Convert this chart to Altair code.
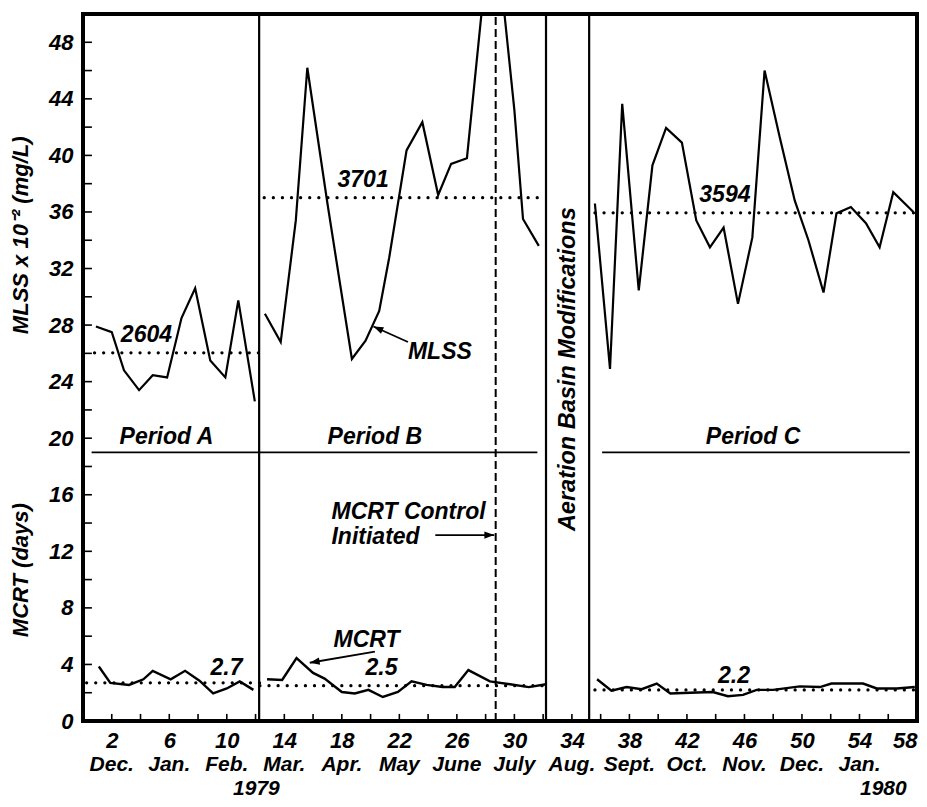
import math
import altair as alt
import pandas as pd

# ---------------- data ----------------
# MLSS x 10^-2 (mg/L), by week
mlss_a_x = [0.9, 2.0, 2.85, 3.9, 4.85, 5.85, 6.85, 7.8, 8.85, 9.9, 10.8, 11.95]
mlss_a_y = [27.9, 27.5, 24.8, 23.4, 24.45, 24.3, 28.5, 30.6, 25.5, 24.3, 29.75, 22.6]
mlss_b_x = [12.65, 13.75, 14.8, 15.6, 17.0, 17.8, 18.7, 19.65, 20.6, 21.3, 22.5,
            23.6, 24.7, 25.6, 26.7, 28.5, 30.0, 30.6, 31.7]
mlss_b_y = [28.8, 26.8, 35.4, 46.2, 36.6, 31.4, 25.6, 26.9, 29.0, 32.8, 40.35,
            42.35, 37.2, 39.4, 39.8, 58.0, 43.2, 35.5, 33.6]
mlss_c_x = [35.6, 36.65, 37.5, 38.65, 39.6, 40.55, 41.65, 42.65, 43.6, 44.55, 45.55,
            46.55, 47.4, 48.45, 49.5, 50.45, 51.5, 52.4, 53.4, 54.45, 55.4, 56.35, 57.75]
mlss_c_y = [36.6, 24.9, 43.65, 30.45, 39.3, 41.95, 40.9, 35.4, 33.5, 34.9, 29.5,
            34.2, 46.0, 41.3, 36.8, 34.0, 30.3, 35.9, 36.35, 35.2, 33.5, 37.4, 36.0]

# MCRT (days), by week
mcrt_a_x = [1.1, 1.9, 3.2, 4.2, 4.85, 6.1, 7.1, 8.1, 9.05, 10.0, 10.9, 11.85]
mcrt_a_y = [3.85, 2.7, 2.55, 2.95, 3.55, 2.95, 3.55, 2.85, 1.95, 2.3, 2.8, 2.2]
mcrt_b_x = [12.8, 13.85, 14.85, 16.0, 16.8, 18.0, 18.9, 19.85, 20.85, 21.9, 22.85,
            23.9, 25.0, 25.85, 26.8, 28.3, 29.7, 31.0, 32.2]
mcrt_b_y = [2.95, 2.9, 4.45, 3.4, 3.0, 2.05, 1.95, 2.2, 1.7, 2.05, 2.8,
            2.55, 2.4, 2.4, 3.6, 2.8, 2.6, 2.4, 2.6]
mcrt_c_x = [35.75, 36.75, 37.8, 38.85, 39.9, 40.85, 42.2, 43.8, 44.85, 45.9,
            46.85, 48.0, 49.85, 51.25, 52.05, 54.25, 55.2, 56.6, 57.85]
mcrt_c_y = [2.95, 2.15, 2.4, 2.25, 2.65, 1.95, 2.0, 2.05, 1.75, 1.85,
            2.2, 2.2, 2.45, 2.4, 2.65, 2.65, 2.3, 2.3, 2.4]

# period means
mean_labels = ["2604", "3701", "3594", "2.7", "2.5", "2.2"]
mean_values = [26.04, 37.01, 35.94, 2.7, 2.5, 2.2]
mean_x_start = [0.8, 12.6, 35.6, 0.25, 12.3, 35.6]
mean_x_end = [12.25, 32.0, 57.9, 12.9, 32.2, 57.9]

# structure
period_names = ["Period A", "Period B", "Period C"]
period_label_x = [5.8, 20.3, 46.6]
period_line_start = [0.6, 36.1]
period_line_end = [31.6, 57.5]
period_line_y = 19
boundary_x = [12.25, 32.2, 35.2]
control_x = 28.7

x_tick_labels = list(range(2, 59, 4))
months = ["Dec.", "Jan.", "Feb.", "Mar.", "Apr.", "May", "June", "July", "Aug.",
          "Sept.", "Oct.", "Nov.", "Dec.", "Jan."]
years = ["1979", "1980"]
years_x = [12.06, 55.66]

FONT = "Liberation Sans"
W, H = 834, 707
XMAX, YMAX = 58, 50
SX, SY = W / XMAX, H / YMAX

# ---------------- tables ----------------
def series(name, xs, ys):
    return pd.DataFrame({"x": xs, "y": ys, "s": name})

mlss_ac = pd.concat([series("A", mlss_a_x, mlss_a_y), series("C", mlss_c_x, mlss_c_y)])
mlss_b = series("B", mlss_b_x, mlss_b_y)
mcrt = pd.concat([series("A", mcrt_a_x, mcrt_a_y), series("B", mcrt_b_x, mcrt_b_y),
                  series("C", mcrt_c_x, mcrt_c_y)])
means = pd.DataFrame({"x": mean_x_start, "x2": mean_x_end, "y": mean_values})

x_scale = alt.Scale(domain=[0, XMAX], nice=False, zero=False)
y_scale = alt.Scale(domain=[0, YMAX], nice=False, zero=False)
x_axis = alt.Axis(values=x_tick_labels, title=None, grid=False, domain=False, ticks=False,
                  tickSize=0, labelFont=FONT, labelFontStyle="italic", labelFontWeight="bold",
                  labelFontSize=22, labelColor="black", labelPadding=19,
                  labelBaseline="middle", labelFlush=True, labelOverlap=False)
y_axis = alt.Axis(values=list(range(0, 49, 4)), title=None, grid=False, domain=False,
                  ticks=False, tickSize=0, labelFont=FONT, labelFontStyle="italic",
                  labelFontWeight="bold", labelFontSize=22, labelColor="black",
                  labelPadding=10, labelFlush=False, labelOverlap=False)


def X(field="x"):
    return alt.X(f"{field}:Q", scale=x_scale, axis=x_axis)


def Y(field="y"):
    return alt.Y(f"{field}:Q", scale=y_scale, axis=y_axis)


layers = []

# data lines
layers.append(alt.Chart(mlss_ac).mark_line(color="black", strokeWidth=2.2)
              .encode(x=X(), y=Y(), detail="s:N"))
layers.append(alt.Chart(mlss_b).mark_line(color="black", strokeWidth=2.2, clip=True)
              .encode(x=X(), y=Y()))
layers.append(alt.Chart(mcrt).mark_line(color="black", strokeWidth=2.4)
              .encode(x=X(), y=Y(), detail="s:N"))

# dotted mean lines
layers.append(alt.Chart(means).mark_rule(color="black", strokeWidth=3.2, strokeDash=[0.1, 9],
                                         strokeCap="round")
              .encode(x=X(), x2="x2:Q", y=Y()))

# boundaries
layers.append(alt.Chart(pd.DataFrame({"x": boundary_x, "y": 0, "y2": YMAX}))
              .mark_rule(color="black", strokeWidth=2.2)
              .encode(x=X(), y=Y(), y2="y2:Q"))
layers.append(alt.Chart(pd.DataFrame({"x": [control_x], "y": [0], "y2": [YMAX]}))
              .mark_rule(color="black", strokeWidth=2, strokeDash=[8, 4])
              .encode(x=X(), y=Y(), y2="y2:Q"))
layers.append(alt.Chart(pd.DataFrame({"x": period_line_start, "x2": period_line_end,
                                      "y": period_line_y}))
              .mark_rule(color="black", strokeWidth=1.6)
              .encode(x=X(), x2="x2:Q", y=Y()))

# inward ticks
layers.append(alt.Chart(pd.DataFrame({"x": list(range(2, 59, 2)), "y": 0, "y2": 0.5}))
              .mark_rule(color="black", strokeWidth=1.6)
              .encode(x=X(), y=Y(), y2="y2:Q"))
layers.append(alt.Chart(pd.DataFrame({"y": list(range(2, 49, 2)), "x": 0, "x2": 0.62}))
              .mark_rule(color="black", strokeWidth=1.6)
              .encode(x=X(), x2="x2:Q", y=Y()))

# heavy frame
frame = pd.DataFrame({"x": [0, XMAX, 0, 0], "x2": [0, XMAX, XMAX, XMAX],
                      "y": [0, 0, 0, YMAX], "y2": [YMAX, YMAX, 0, YMAX]})
layers.append(alt.Chart(frame).mark_rule(color="black", strokeWidth=4, strokeCap="square")
              .encode(x=X(), x2="x2:Q", y=Y(), y2="y2:Q"))

# arrows
arrows = pd.DataFrame({"x": [22.6, 20.3, 24.5], "y": [26.8, 4.9, 13.15],
                       "x2": [20.2, 15.77, 28.6], "y2": [27.9, 4.12, 13.15]})
arrows["ang"] = [math.degrees(math.atan2(-(r.y2 - r.y) * SY, (r.x2 - r.x) * SX)) % 360
                 for r in arrows.itertuples()]
layers.append(alt.Chart(arrows).mark_rule(color="black", strokeWidth=1.8)
              .encode(x=X(), x2="x2:Q", y=Y(), y2="y2:Q"))
heads = pd.DataFrame({"x": arrows["x2"], "y": arrows["y2"], "ang": arrows["ang"]})
layers.append(alt.Chart(heads).mark_point(shape="M0,0L-2.2,-0.8L-2.2,0.8Z", filled=True,
                                          color="black", size=81, opacity=1)
              .encode(x=X(), y=Y(), angle=alt.Angle("ang:Q", scale=None)))

# text annotations
txt = dict(font=FONT, fontStyle="italic", fontWeight="bold", color="black")
centered = pd.DataFrame({
    "x": period_label_x + [4.41, 19.48, 44.64, 9.98, 20.76, 45.27, 24.82, 19.72],
    "y": [20.1] * 3 + [27.3, 38.23, 37.17, 3.72, 3.72, 3.18, 26.1, 5.74],
    "t": period_names + mean_labels + ["MLSS", "MCRT"],
})
layers.append(alt.Chart(centered).mark_text(fontSize=23, align="center", baseline="middle", **txt)
              .encode(x=X(), y=Y(), text="t:N"))
left = pd.DataFrame({"x": [17.28, 17.28], "y": [14.79, 13.03],
                     "t": ["MCRT Control", "Initiated"]})
layers.append(alt.Chart(left).mark_text(fontSize=23, align="left", baseline="middle", **txt)
              .encode(x=X(), y=Y(), text="t:N"))
rot = pd.DataFrame({"x": [33.72], "y": [24.88], "t": ["Aeration Basin Modifications"]})
layers.append(alt.Chart(rot).mark_text(fontSize=23.5, align="center", baseline="middle",
                                       angle=270, **txt)
              .encode(x=X(), y=Y(), text="t:N"))
ytitles = pd.DataFrame({"x": [-4.28, -4.28], "y": [34.35, 10.67],
                        "t": ["MLSS x 10\u207b\u00b2 (mg/L)", "MCRT (days)"]})
layers.append(alt.Chart(ytitles).mark_text(fontSize=22, align="center", baseline="middle",
                                           angle=270, **txt)
              .encode(x=X(), y=Y(), text="t:N"))

# month and year labels below the axis
mdf = pd.DataFrame({"x": list(range(2, 55, 4)), "t": months})
layers.append(alt.Chart(mdf).mark_text(fontSize=21, align="center", baseline="middle", **txt)
              .encode(x=X(), y=alt.value(H + 44), text="t:N"))
ydf = pd.DataFrame({"x": years_x, "t": years})
layers.append(alt.Chart(ydf).mark_text(fontSize=21, align="center", baseline="middle", **txt)
              .encode(x=X(), y=alt.value(H + 68), text="t:N"))

chart = (alt.layer(*layers)
         .properties(width=W, height=H,
                     padding={"left": 75, "top": 6, "right": 2, "bottom": 78},
                     autosize=alt.AutoSizeParams(type="none"))
         .configure_view(strokeWidth=0)
         .configure(background="white"))

chart.save("out.html", embed_options={"renderer": "svg", "actions": False})
